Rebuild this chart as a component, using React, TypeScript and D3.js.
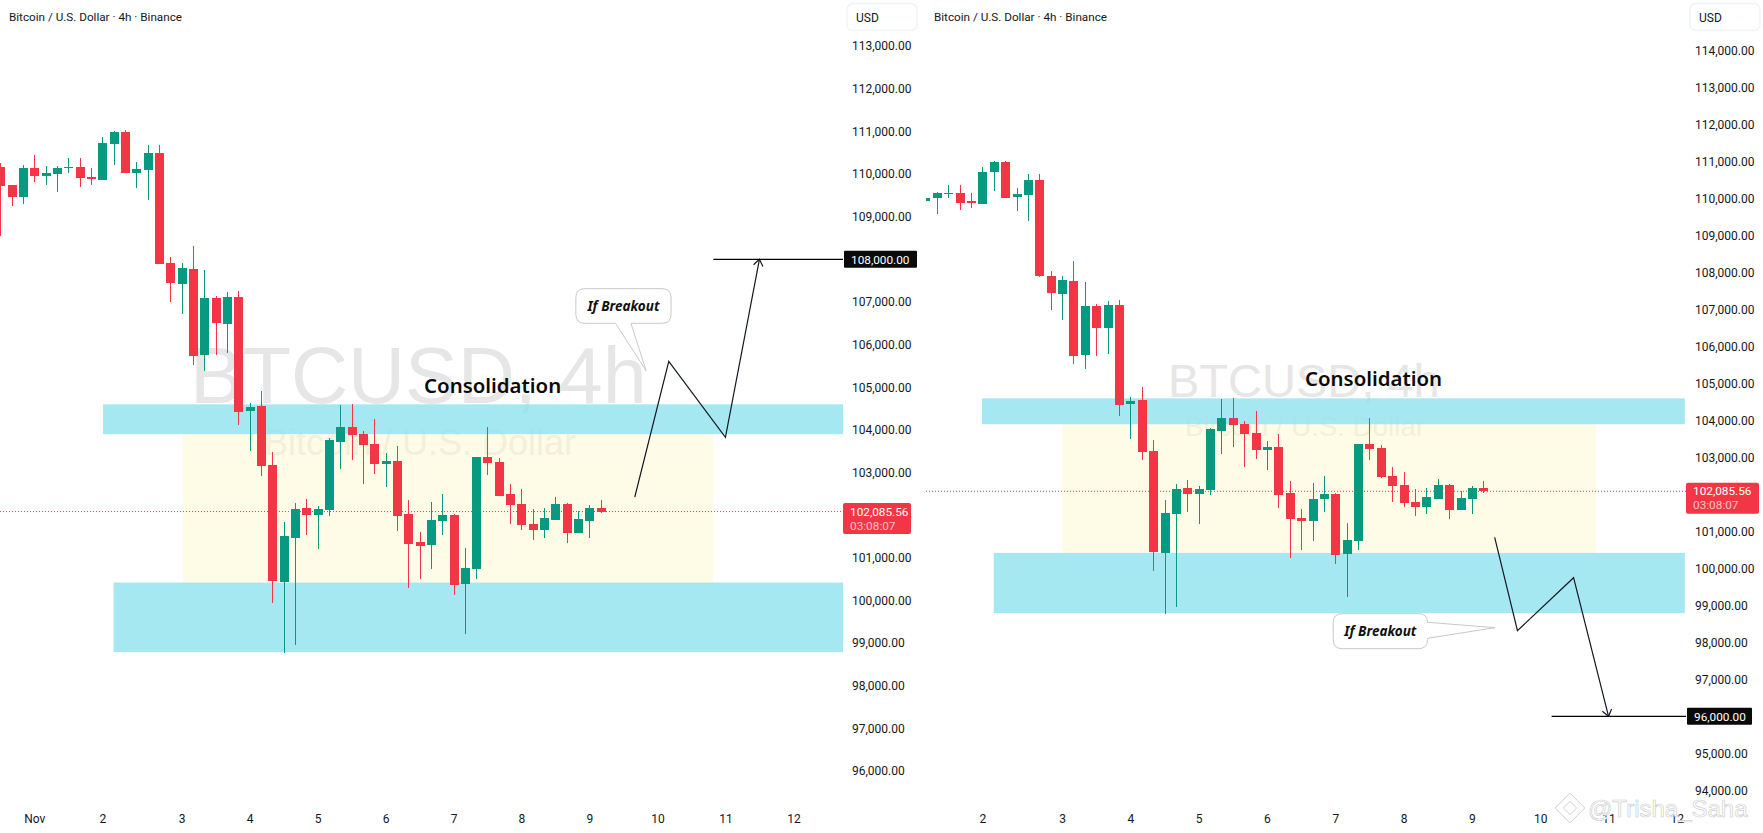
import React, { useEffect, useRef } from "react";
import * as d3 from "d3";

const opens = [110164, 109742, 109461, 110141, 109953, 109999, 110141, 110164, 109930, 109859, 110703, 110985, 110023, 110094, 110492, 107913, 107421, 107772, 105756, 107092, 106483, 107116, 104443, 104560, 103177, 100434, 101465, 102169, 102005, 102122, 103716, 104068, 103904, 103669, 103201, 103271, 102028, 101372, 101301, 101864, 102005, 100387, 100738, 103365, 103247, 102497, 102262, 101794, 101653, 101887, 102257, 101581, 101878, 102176];
const highs = [110258, 109742, 110211, 110445, 110187, 110187, 110375, 110375, 110141, 110867, 111008, 111032, 110281, 110680, 110680, 108054, 107913, 108312, 107749, 107139, 107233, 107257, 104631, 104912, 103482, 101840, 102286, 102380, 102216, 103810, 104584, 104607, 103974, 104256, 103458, 103623, 102356, 101606, 102309, 102497, 102028, 101231, 103365, 104068, 103341, 102732, 102614, 102145, 102169, 102427, 102284, 102095, 102230, 102365];
const lows = [108546, 109250, 109296, 109812, 109742, 109578, 110023, 109695, 109742, 109859, 110211, 110023, 109672, 109390, 107889, 106999, 106717, 105521, 105381, 105756, 105803, 104115, 103505, 102919, 99933, 98769, 98956, 101536, 101207, 101981, 103083, 103294, 102732, 102966, 102661, 101629, 100293, 100504, 100738, 101536, 100129, 99214, 100504, 102943, 102450, 101794, 101653, 101418, 101465, 101878, 101337, 101581, 101472, 102040];
const closes = [109718, 109461, 110141, 109953, 110023, 110141, 110164, 109906, 109883, 110727, 110985, 110023, 110117, 110492, 107889, 107444, 107796, 105732, 107092, 106506, 107116, 104420, 104537, 103154, 100457, 101512, 102145, 102005, 102145, 103763, 104068, 103880, 103646, 103201, 103271, 101981, 101325, 101278, 101887, 102005, 100363, 100762, 103365, 103224, 102450, 102239, 101770, 101653, 101934, 102262, 101581, 101905, 102176, 102085.56];

const dayIndex = [3, 9, 16, 22, 28, 34, 40, 46, 52, 58, 64, 70];
const dayLabels = ["Nov", "2", "3", "4", "5", "6", "7", "8", "9", "10", "11", "12"];

const leftPriceTicks = d3.range(96000, 113001, 1000);
const rightPriceTicks = d3.range(94000, 114001, 1000);

const lastPrice = 102085.56;
const countdown = "03:08:07";

const upperZone = [104600, 103900];
const lowerZone = [100420, 98790];
const rangeZone = [103900, 100400];

const leftPathIdx = [56, 59, 64, 67];
const leftPathPrice = [102427, 105608, 103826, 108000];
const rightPathIdx = [54, 56, 60.93, 64];
const rightPathPrice = [100842, 98315, 99749, 96000];

const GREEN = "#089981";
const RED = "#f23645";
const FONT = "Roboto, sans-serif";
const NOTE_FONT = "'Noto Sans', sans-serif";

type Pane = {
  left: number;
  axisX: number;
  xRange: [number, number];
  yRange: [number, number];
  yDomain: [number, number];
  ticks: number[];
  lastTagWidth: number;
  targetTagWidth: number;
  zoneEnd: number;
  upperStart: number;
  lowerStart: number;
  rangeIdx: [number, number];
  path: [number[], number[]];
  targetPrice: number;
  targetFrom: number;
  bigText: { x: number; y: number; size: number };
  subText: { x: number; y: number; size: number };
  label: { idx: number; price: number };
  callout: {
    idx: [number, number];
    price: [number, number];
    tip: [number, number];
    side: "bottom" | "right";
    base: [number, number];
  };
  titleX: number;
};

const panes: Pane[] = [
  {
    left: 0,
    axisX: 843,
    xRange: [0.3, 600.8],
    yRange: [771.1, 259.3],
    yDomain: [96000, 108000],
    ticks: leftPriceTicks,
    lastTagWidth: 68,
    targetTagWidth: 73,
    zoneEnd: 74.4,
    upperStart: 9.07,
    lowerStart: 10,
    rangeIdx: [16.1, 62.9],
    path: [leftPathIdx, leftPathPrice],
    targetPrice: 108000,
    targetFrom: 62.93,
    bigText: { x: 190, y: 403, size: 79 },
    subText: { x: 264, y: 455, size: 36 },
    label: { idx: 37.4, price: 104870 },
    callout: {
      idx: [50.8, 59.2],
      price: [107311, 106499],
      tip: [57, 105388],
      side: "bottom",
      base: [54.3, 55.66],
    },
    titleX: 9,
  },
  {
    left: 926,
    axisX: 1686,
    xRange: [879.9, 1483.3],
    yRange: [716.3, 50.8],
    yDomain: [96000, 114000],
    ticks: rightPriceTicks,
    lastTagWidth: 73,
    targetTagWidth: 65,
    zoneEnd: 70.7,
    upperStart: 8.97,
    lowerStart: 10,
    rangeIdx: [16, 62.9],
    path: [rightPathIdx, rightPathPrice],
    targetPrice: 96000,
    targetFrom: 59,
    bigText: { x: 1168, y: 397, size: 47 },
    subText: { x: 1185, y: 436, size: 27.7 },
    label: { idx: 37.34, price: 104945 },
    callout: {
      idx: [39.82, 48.1],
      price: [98775, 97829],
      tip: [54.03, 98397],
      side: "right",
      base: [98543, 98110],
    },
    titleX: 934,
  },
];

function drawPane(svg: d3.Selection<SVGSVGElement, unknown, null, undefined>, pane: Pane, id: string) {
  const x = d3.scaleLinear().domain([0, 53]).range(pane.xRange);
  const y = d3.scaleLinear().domain(pane.yDomain).range(pane.yRange);

  svg.append("defs").append("clipPath").attr("id", id)
    .append("rect")
    .attr("x", pane.left).attr("y", 0)
    .attr("width", pane.axisX - pane.left).attr("height", 833);

  const g = svg.append("g").attr("clip-path", `url(#${id})`);

  // watermark sits under the drawings
  g.append("text")
    .attr("x", pane.bigText.x).attr("y", pane.bigText.y)
    .attr("font-family", "'Liberation Sans', sans-serif")
    .attr("font-size", pane.bigText.size)
    .attr("fill", "#e6e6e6")
    .text("BTCUSD, 4h");
  g.append("text")
    .attr("x", pane.subText.x).attr("y", pane.subText.y)
    .attr("font-family", "'Liberation Sans', sans-serif")
    .attr("font-size", pane.subText.size)
    .attr("fill", "#ededed")
    .text("Bitcoin / U.S. Dollar");

  const zone = (x0: number, x1: number, p: number[], fill: string, op: number) =>
    g.append("rect")
      .attr("x", x(x0)).attr("width", x(x1) - x(x0))
      .attr("y", y(p[0])).attr("height", y(p[1]) - y(p[0]))
      .attr("fill", fill).attr("fill-opacity", op);

  zone(pane.rangeIdx[0], pane.rangeIdx[1], rangeZone, "#fcf7ba", 0.36);
  zone(pane.upperStart, pane.zoneEnd, upperZone, "#8fe2ee", 0.8);
  zone(pane.lowerStart, pane.zoneEnd, lowerZone, "#8fe2ee", 0.8);

  const candles = d3.range(opens.length);
  const color = (i: number) => (closes[i] >= opens[i] && i !== 53 ? GREEN : RED);

  g.selectAll("line.wick").data(candles).enter().append("line")
    .attr("class", "wick")
    .attr("x1", (i) => Math.round(x(i)) + 0.5).attr("x2", (i) => Math.round(x(i)) + 0.5)
    .attr("y1", (i) => y(highs[i])).attr("y2", (i) => y(lows[i]))
    .attr("stroke", color).attr("shape-rendering", "crispEdges");

  g.selectAll("rect.body").data(candles).enter().append("rect")
    .attr("class", "body")
    .attr("x", (i) => Math.round(x(i)) - 4).attr("width", 9)
    .attr("y", (i) => Math.round(y(Math.max(opens[i], closes[i]))))
    .attr("height", (i) => Math.max(1, Math.round(Math.abs(y(opens[i]) - y(closes[i])))))
    .attr("fill", color).attr("shape-rendering", "crispEdges");

  g.append("line")
    .attr("x1", pane.left).attr("x2", pane.axisX)
    .attr("y1", y(lastPrice)).attr("y2", y(lastPrice))
    .attr("stroke", RED).attr("stroke-dasharray", "1 2");

  // forecast path and target line
  const [pi, pp] = pane.path;
  const pts = pi.map((d, i) => [x(d), y(pp[i])] as [number, number]);
  g.append("path")
    .attr("d", d3.line()(pts))
    .attr("fill", "none").attr("stroke", "#131722").attr("stroke-width", 1.2);
  const end = pts[pts.length - 1];
  const prev = pts[pts.length - 2];
  const a = Math.atan2(end[1] - prev[1], end[0] - prev[0]);
  const head = [a + 2.5, a - 2.5].map((t) => [end[0] + 8 * Math.cos(t), end[1] + 8 * Math.sin(t)] as [number, number]);
  g.append("path")
    .attr("d", d3.line()([head[0], end, head[1]]))
    .attr("fill", "none").attr("stroke", "#131722").attr("stroke-width", 1.2);

  g.append("line")
    .attr("x1", x(pane.targetFrom)).attr("x2", pane.axisX)
    .attr("y1", y(pane.targetPrice)).attr("y2", y(pane.targetPrice))
    .attr("stroke", "#000").attr("stroke-width", 1.2);

  g.append("text")
    .attr("x", x(pane.label.idx)).attr("y", y(pane.label.price))
    .attr("font-family", NOTE_FONT).attr("font-weight", 600)
    .attr("font-size", 20.4).attr("fill", "#0a0a0a")
    .text("Consolidation");

  // callout
  const c = pane.callout;
  const l = x(c.idx[0]), r = x(c.idx[1]), t = y(c.price[0]), b = y(c.price[1]);
  const rad = 9;
  const tip = [x(c.tip[0]), y(c.tip[1])];
  const shape = d3.path();
  shape.moveTo(l + rad, t);
  shape.lineTo(r - rad, t);
  shape.quadraticCurveTo(r, t, r, t + rad);
  if (c.side === "right") {
    shape.lineTo(r, y(c.base[0]));
    shape.lineTo(tip[0], tip[1]);
    shape.lineTo(r, y(c.base[1]));
  }
  shape.lineTo(r, b - rad);
  shape.quadraticCurveTo(r, b, r - rad, b);
  if (c.side === "bottom") {
    shape.lineTo(x(c.base[1]), b);
    shape.lineTo(tip[0], tip[1]);
    shape.lineTo(x(c.base[0]), b);
  }
  shape.lineTo(l + rad, b);
  shape.quadraticCurveTo(l, b, l, b - rad);
  shape.lineTo(l, t + rad);
  shape.quadraticCurveTo(l, t, l + rad, t);
  shape.closePath();
  g.append("path")
    .attr("d", shape.toString())
    .attr("fill", "#fff").attr("stroke", "#c9c9c9").attr("stroke-width", 1);
  g.append("text")
    .attr("x", (l + r) / 2).attr("y", (t + b) / 2 + 5)
    .attr("text-anchor", "middle")
    .attr("font-family", NOTE_FONT).attr("font-weight", 700).attr("font-style", "italic")
    .attr("font-size", 13.5).attr("fill", "#111")
    .text("If Breakout");

  // price axis
  const priceAxis = svg.append("g")
    .attr("transform", `translate(${pane.axisX},0)`)
    .call(d3.axisRight(y).tickValues(pane.ticks).tickSize(0).tickPadding(9).tickFormat(d3.format(",.2f") as any));
  priceAxis.select(".domain").remove();
  priceAxis.selectAll("text")
    .attr("font-family", FONT).attr("font-size", 12).attr("fill", "#131722");

  // time axis, labels left of the pane edge are dropped
  const timeAxis = svg.append("g")
    .attr("transform", "translate(0,806)")
    .call(d3.axisBottom(x)
      .tickValues(dayIndex.filter((d) => x(d) > pane.left))
      .tickSize(0).tickPadding(8)
      .tickFormat((d) => dayLabels[dayIndex.indexOf(d as number)]));
  timeAxis.select(".domain").remove();
  timeAxis.selectAll("text")
    .attr("font-family", FONT).attr("font-size", 12).attr("fill", "#131722");

  svg.append("text")
    .attr("x", pane.titleX).attr("y", 20.5)
    .attr("font-family", FONT).attr("font-size", 11.7).attr("fill", "#131722")
    .text("Bitcoin / U.S. Dollar · 4h · Binance");

  // USD button
  svg.append("rect")
    .attr("x", pane.axisX + 4).attr("y", 3.5)
    .attr("width", 70).attr("height", 27).attr("rx", 6)
    .attr("fill", "#fff").attr("stroke", "#f0f3fa").attr("stroke-width", 1.5);
  svg.append("text")
    .attr("x", pane.axisX + 13).attr("y", 22)
    .attr("font-family", FONT).attr("font-size", 12).attr("fill", "#131722")
    .text("USD");

  // target price tag
  svg.append("rect")
    .attr("x", pane.axisX + 1).attr("width", pane.targetTagWidth)
    .attr("y", y(pane.targetPrice) - 8.5).attr("height", 17).attr("rx", 1)
    .attr("fill", "#0a0a0a");
  svg.append("text")
    .attr("x", pane.axisX + 8).attr("y", y(pane.targetPrice) + 4.5)
    .attr("font-family", FONT).attr("font-size", 11.8).attr("fill", "#fff")
    .text(d3.format(",.2f")(pane.targetPrice));

  // last price tag
  svg.append("rect")
    .attr("x", pane.axisX).attr("width", pane.lastTagWidth)
    .attr("y", y(lastPrice) - 8.5).attr("height", 31).attr("rx", 2)
    .attr("fill", RED);
  svg.append("text")
    .attr("x", pane.axisX + 7).attr("y", y(lastPrice) + 4)
    .attr("font-family", FONT).attr("font-size", 11.8).attr("fill", "#fff")
    .text(d3.format(",.2f")(lastPrice));
  svg.append("text")
    .attr("x", pane.axisX + 7).attr("y", y(lastPrice) + 18)
    .attr("font-family", FONT).attr("font-size", 11.8).attr("fill", "#fff").attr("fill-opacity", 0.7)
    .text(countdown);
}

const App: React.FC = () => {
  const svgRef = useRef<SVGSVGElement>(null);

  useEffect(() => {
    const svg = d3.select(svgRef.current as SVGSVGElement);
    svg.selectAll("*").remove();
    svg.append("rect").attr("width", 1763).attr("height", 833).attr("fill", "#fff");
    panes.forEach((p, i) => drawPane(svg, p, `pane-${i}`));

    // site mark in the bottom corner
    const mark = svg.append("g").attr("fill", "none").attr("stroke", "#cfcfcf");
    mark.append("path").attr("d", d3.symbol(d3.symbolDiamond2, 560)()!)
      .attr("transform", "translate(1570,808)");
    mark.append("path").attr("d", d3.symbol(d3.symbolDiamond2, 110)()!)
      .attr("transform", "translate(1570,808)");
    svg.append("text")
      .attr("x", 1588).attr("y", 817)
      .attr("font-family", "'Liberation Sans', sans-serif")
      .attr("font-size", 24)
      .attr("fill", "#fff").attr("stroke", "#cfcfcf").attr("stroke-width", 0.7)
      .text("@Trisha_Saha");
  }, []);

  return <svg ref={svgRef} width={1763} height={833} style={{ position: "fixed", left: 0, top: 0 }}></svg>;
};

export default App;
